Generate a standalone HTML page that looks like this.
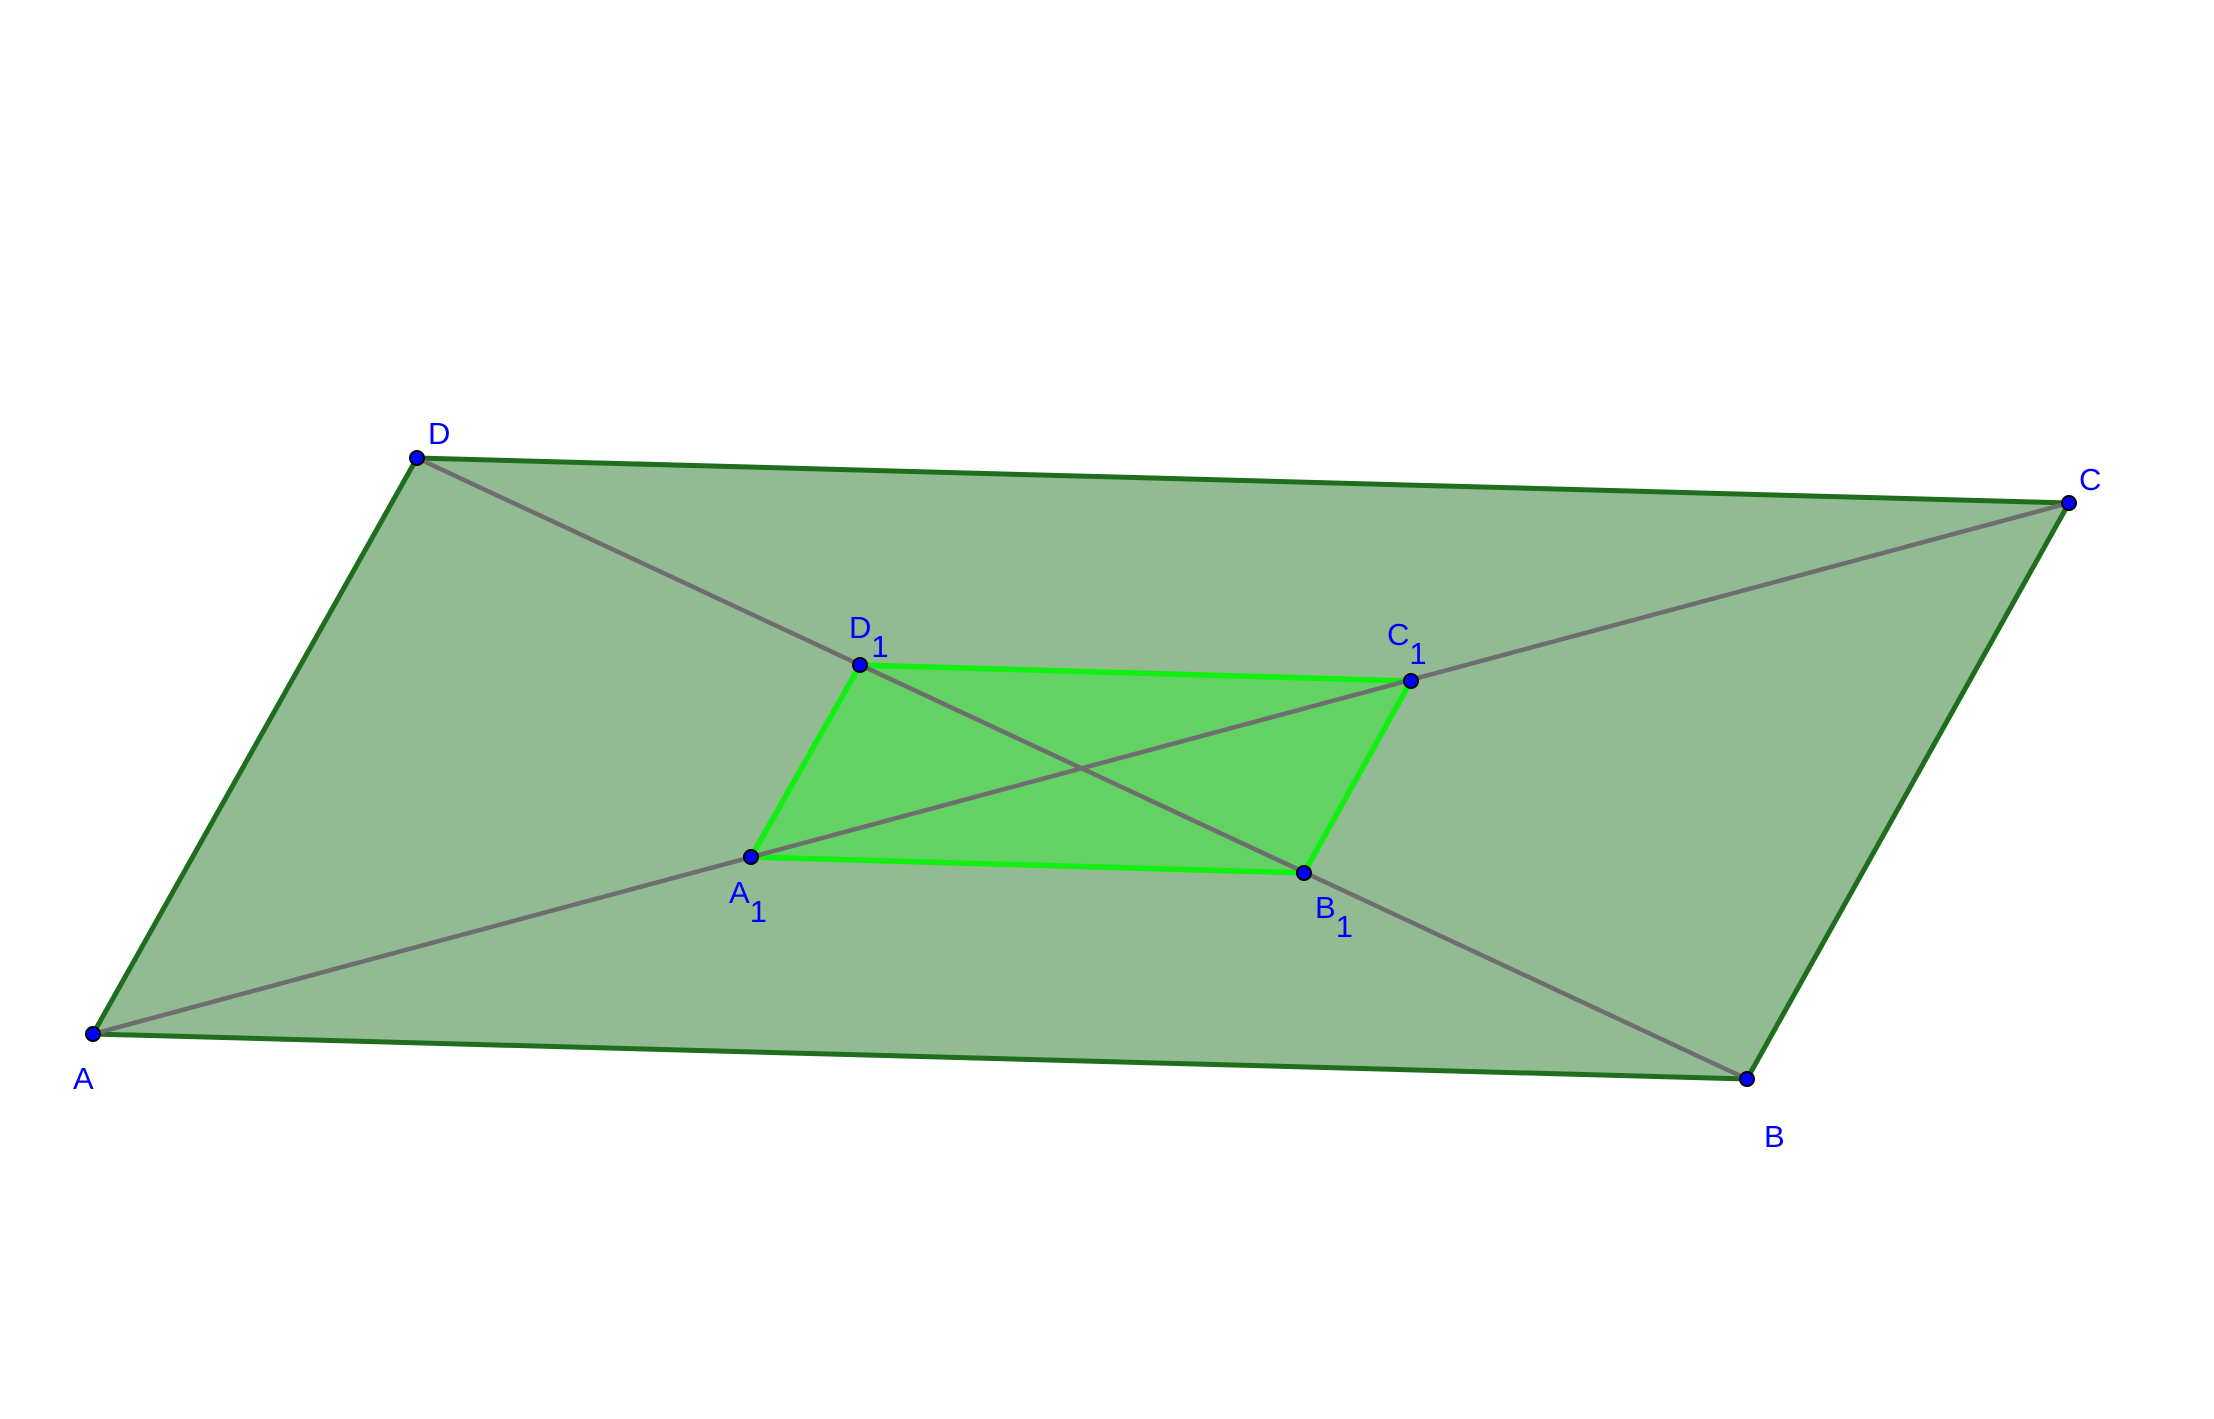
<!DOCTYPE html>
<html><head><meta charset="utf-8"><style>html,body{margin:0;padding:0;background:#fff}</style></head>
<body>
<svg width="2214" height="1414" viewBox="0 0 2214 1414" xmlns="http://www.w3.org/2000/svg" font-family="Liberation Sans, sans-serif" fill="#0000ff">
<polygon points="93,1034 1747,1079 2069,503 417,458" fill="#93bb93" stroke="#1e6e1e" stroke-width="5" stroke-linejoin="round"/>
<polygon points="751,857 1304,873 1411,681 860,665" fill="#63d163" stroke="#11f011" stroke-width="5.5" stroke-linejoin="round"/>
<line x1="93" y1="1034" x2="2069" y2="503" stroke="#6e6e6e" stroke-width="4.5"/>
<line x1="417" y1="458" x2="1747" y2="1079" stroke="#6e6e6e" stroke-width="4.5"/>
<g fill="#0000ff" stroke="#000" stroke-width="2">
<circle cx="93" cy="1034" r="7"/><circle cx="1747" cy="1079" r="7"/><circle cx="2069" cy="503" r="7"/><circle cx="417" cy="458" r="7"/>
<circle cx="751" cy="857" r="7"/><circle cx="1304" cy="873" r="7"/><circle cx="1411" cy="681" r="7"/><circle cx="860" cy="665" r="7"/>
</g>
<g font-size="31">
<text x="428" y="444">D</text>
<text x="2079" y="490">C</text>
<text x="73" y="1089">A</text>
<text x="1764" y="1147">B</text>
<text x="849" y="638">D<tspan dy="19">1</tspan></text>
<text x="1387" y="645">C<tspan dy="19">1</tspan></text>
<text x="729" y="903">A<tspan dy="19">1</tspan></text>
<text x="1315" y="918">B<tspan dy="19">1</tspan></text>
</g>
</svg>
</body></html>
